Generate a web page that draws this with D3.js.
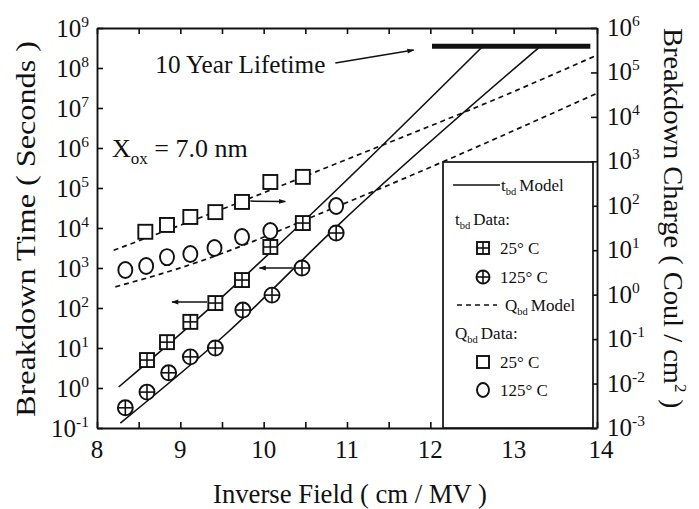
<!DOCTYPE html>
<html><head><meta charset="utf-8">
<script src="https://cdn.jsdelivr.net/npm/d3@7/dist/d3.min.js"></script>
<style>
html,body{margin:0;padding:0;background:#fff;}
svg{display:block;}
text{font-family:"Liberation Serif","Times New Roman",serif;fill:#111;}
</style></head>
<body>
<script>
// ---------- data ----------
const xTicks = [8, 9, 10, 11, 12, 13, 14];
const xMinorTicks = [8.5, 9.5, 10.5, 11.5, 12.5, 13.5];
const leftExp = [-1, 0, 1, 2, 3, 4, 5, 6, 7, 8, 9];
const rightExp = [-3, -2, -1, 0, 1, 2, 3, 4, 5, 6];

// t_bd data (left axis, seconds)
const tbd25x = [8.60, 8.84, 9.12, 9.42, 9.74, 10.08, 10.47];
const tbd25 = [5.0, 14, 45, 133, 500, 3350, 13300];
const tbd125x = [8.34, 8.60, 8.86, 9.12, 9.42, 9.75, 10.10, 10.46, 10.87];
const tbd125 = [0.32, 0.79, 2.4, 6, 10, 89, 210, 1000, 7500];

// Q_bd data (right axis, C/cm^2)
const qbd25x = [8.58, 8.84, 9.12, 9.42, 9.74, 10.08, 10.47];
const qbd25 = [26, 37, 56, 72, 122, 343, 447];
const qbd125x = [8.34, 8.59, 8.84, 9.12, 9.41, 9.74, 10.08, 10.87];
const qbd125 = [3.6, 4.4, 7.0, 8.2, 11.2, 19.8, 27, 99];

// model curves
const tModel25x = [8.26, 9.42, 10.47, 12.63];
const tModel25 = [1.06, 133, 14100, 3.5e8];
const tModel125x = [8.28, 9.56, 10.92, 13.32];
const tModel125 = [0.133, 23.7, 13300, 3.5e8];
const qModel25x = [8.20, 9.32, 10.92, 13.04, 14.0];
const qModel25 = [10, 62, 966, 40000, 245000];
const qModel125x = [8.22, 9.0, 11.07, 14.0];
const qModel125 = [1.5, 4.0, 135, 34000];

// ten-year lifetime bar
const lifetimeX = [12.02, 13.92];
const lifetimeT = 3.5e8;

// ---------- drawing ----------
const W = 699, H = 509;
const svg = d3.select("body").append("svg").attr("width", W).attr("height", H);
svg.append("rect").attr("width", W).attr("height", H).attr("fill", "#fff");

const x = d3.scaleLinear().domain([8, 14]).range([97, 597]);
const yL = d3.scaleLog().domain([1e-1, 1e9]).range([428, 28]);
const yR = d3.scaleLog().domain([1e-3, 1e6]).range([428, 28]);

const ink = "#111";

// axes
const gAx = svg.append("g");
function styleAxis(g) {
  g.selectAll("path").attr("stroke", ink).attr("stroke-width", 1.9);
  g.selectAll("line").attr("stroke", ink).attr("stroke-width", 1.6);
  g.selectAll("text").remove();
}
gAx.append("g").attr("transform", `translate(0,${yL.range()[0]})`)
  .call(d3.axisBottom(x).tickValues(xTicks.concat(xMinorTicks)).tickSize(-6).tickSizeOuter(0))
  .call(styleAxis);
gAx.append("g").attr("transform", `translate(0,${yL.range()[1]})`)
  .call(d3.axisTop(x).tickValues(xTicks.concat(xMinorTicks)).tickSize(-6).tickSizeOuter(0))
  .call(styleAxis);
gAx.append("g").attr("transform", `translate(${x.range()[0]},0)`)
  .call(d3.axisLeft(yL).tickValues(leftExp.map(e => Math.pow(10, e))).tickSize(-6).tickSizeOuter(0))
  .call(styleAxis);
gAx.append("g").attr("transform", `translate(${x.range()[1]},0)`)
  .call(d3.axisRight(yR).tickValues(rightExp.map(e => Math.pow(10, e))).tickSize(-6).tickSizeOuter(0))
  .call(styleAxis);

// tick labels
const tickFont = 25;
function powLabel(g, xp, yp, e, anchor) {
  const t = g.append("text").attr("x", xp).attr("y", yp)
    .attr("text-anchor", anchor).attr("font-size", tickFont);
  t.append("tspan").text("10");
  t.append("tspan").attr("font-size", tickFont * 0.62).attr("dy", -10).text(String(e));
}
const gLab = svg.append("g");
leftExp.forEach(e => powLabel(gLab, 89, yL(Math.pow(10, e)) + 9, e, "end"));
rightExp.forEach(e => powLabel(gLab, 607, yR(Math.pow(10, e)) + 8, e, "start"));
xTicks.forEach(v => {
  gLab.append("text").attr("x", x(v) + (v === 14 ? 4 : 0)).attr("y", 458)
    .attr("text-anchor", "middle").attr("font-size", tickFont).text(String(v));
});

// axis titles
svg.append("text").attr("x", 350).attr("y", 503).attr("text-anchor", "middle")
  .attr("font-size", 27).attr("textLength", 274).attr("lengthAdjust", "spacingAndGlyphs")
  .text("Inverse Field ( cm / MV )");
svg.append("text").attr("transform", "translate(35,229) rotate(-90)")
  .attr("text-anchor", "middle").attr("font-size", 27)
  .attr("textLength", 376).attr("lengthAdjust", "spacingAndGlyphs")
  .text("Breakdown Time ( Seconds )");
const rt = svg.append("text").attr("transform", "translate(664,28) rotate(90)")
  .attr("text-anchor", "start").attr("font-size", 27);
rt.append("tspan").attr("textLength", 356).attr("lengthAdjust", "spacingAndGlyphs").text("Breakdown Charge ( Coul / cm");
rt.append("tspan").attr("font-size", 17).attr("dy", -11).text("2");
rt.append("tspan").attr("dy", 11).text(" )");

// model lines
const lineL = d3.line().x(d => x(d[0])).y(d => yL(d[1])).curve(d3.curveMonotoneX);
const lineR = d3.line().x(d => x(d[0])).y(d => yR(d[1])).curve(d3.curveMonotoneX);
const gLines = svg.append("g").attr("fill", "none").attr("stroke", ink);
gLines.append("path").attr("d", lineL(d3.zip(tModel25x, tModel25))).attr("stroke-width", 1.6);
gLines.append("path").attr("d", lineL(d3.zip(tModel125x, tModel125))).attr("stroke-width", 1.6);
gLines.append("path").attr("d", lineR(d3.zip(qModel25x, qModel25))).attr("stroke-width", 1.7).attr("stroke-dasharray", "5,4");
gLines.append("path").attr("d", lineR(d3.zip(qModel125x, qModel125))).attr("stroke-width", 1.7).attr("stroke-dasharray", "5,4");

// lifetime bar
svg.append("line").attr("x1", x(lifetimeX[0])).attr("x2", x(lifetimeX[1]))
  .attr("y1", yL(lifetimeT)).attr("y2", yL(lifetimeT))
  .attr("stroke", ink).attr("stroke-width", 5);

// markers
const S = 14, R = 7.5;
function sqPlus(g, cx, cy, s) {
  g.append("rect").attr("x", cx - s / 2).attr("y", cy - s / 2).attr("width", s).attr("height", s)
    .attr("fill", "#fff").attr("stroke", ink).attr("stroke-width", 1.9);
  g.append("line").attr("x1", cx - s / 2).attr("x2", cx + s / 2).attr("y1", cy).attr("y2", cy).attr("stroke", ink).attr("stroke-width", 1.6);
  g.append("line").attr("x1", cx).attr("x2", cx).attr("y1", cy - s / 2).attr("y2", cy + s / 2).attr("stroke", ink).attr("stroke-width", 1.6);
}
function cirPlus(g, cx, cy, r) {
  g.append("circle").attr("cx", cx).attr("cy", cy).attr("r", r)
    .attr("fill", "#fff").attr("stroke", ink).attr("stroke-width", 1.9);
  g.append("line").attr("x1", cx - r).attr("x2", cx + r).attr("y1", cy).attr("y2", cy).attr("stroke", ink).attr("stroke-width", 1.6);
  g.append("line").attr("x1", cx).attr("x2", cx).attr("y1", cy - r).attr("y2", cy + r).attr("stroke", ink).attr("stroke-width", 1.6);
}
function sq(g, cx, cy, s) {
  g.append("rect").attr("x", cx - s / 2).attr("y", cy - s / 2).attr("width", s).attr("height", s)
    .attr("fill", "#fff").attr("stroke", ink).attr("stroke-width", 1.9);
}
function cir(g, cx, cy, r) {
  g.append("ellipse").attr("cx", cx).attr("cy", cy).attr("rx", r - 0.5).attr("ry", r + 0.5)
    .attr("fill", "#fff").attr("stroke", ink).attr("stroke-width", 1.9);
}
const gM = svg.append("g");
tbd25x.forEach((v, i) => sqPlus(gM, x(v), yL(tbd25[i]), S));
tbd125x.forEach((v, i) => cirPlus(gM, x(v), yL(tbd125[i]), R));
qbd25x.forEach((v, i) => sq(gM, x(v), yR(qbd25[i]), S));
qbd125x.forEach((v, i) => cir(gM, x(v), yR(qbd125[i]), R));

// arrows
const defs = svg.append("defs");
defs.append("marker").attr("id", "ah").attr("viewBox", "0 0 10 10").attr("refX", 9).attr("refY", 5)
  .attr("markerWidth", 9).attr("markerHeight", 7).attr("markerUnits", "userSpaceOnUse").attr("orient", "auto")
  .append("path").attr("d", "M0,1.5 L10,5 L0,8.5 Z").attr("fill", ink);
function arrow(x1, t1, x2, t2) {
  svg.append("line").attr("x1", x(x1)).attr("y1", yL(t1)).attr("x2", x(x2)).attr("y2", yL(t2))
    .attr("stroke", ink).attr("stroke-width", 1.5).attr("marker-end", "url(#ah)");
}
arrow(9.84, 47000, 10.26, 46000);
arrow(9.32, 141, 8.90, 141);
arrow(10.35, 1000, 9.95, 1000);
arrow(10.86, 1.33e8, 11.80, 2.8e8);

// annotations
svg.append("text").attr("x", x(8.70)).attr("y", yL(7.5e7)).attr("font-size", 25)
  .attr("textLength", 170).attr("lengthAdjust", "spacingAndGlyphs").text("10 Year Lifetime");
const xo = svg.append("text").attr("x", x(8.18)).attr("y", yL(6e5)).attr("font-size", 26);
xo.append("tspan").text("X");
xo.append("tspan").attr("font-size", 17).attr("dy", 7).text("ox");
xo.append("tspan").attr("dy", -7).text(" = 7.0 nm");

// legend
const lx = 443, ly = 162;
const gl = svg.append("g");
gl.append("rect").attr("x", lx).attr("y", ly).attr("width", 150).attr("height", yL.range()[0] - ly)
  .attr("fill", "#fff").attr("stroke", ink).attr("stroke-width", 1.7);
const lf = 17;
function sub(t, main, s, rest) {
  t.append("tspan").text(main);
  t.append("tspan").attr("font-size", lf * 0.62).attr("dy", 4).text(s);
  t.append("tspan").attr("dy", -4).attr("dx", 3).text(rest);
}
gl.append("line").attr("x1", lx + 10).attr("x2", lx + 57).attr("y1", ly + 23).attr("y2", ly + 23).attr("stroke", ink).attr("stroke-width", 1.6);
sub(gl.append("text").attr("x", lx + 58).attr("y", ly + 29).attr("font-size", lf), "t", "bd", "Model");
sub(gl.append("text").attr("x", lx + 12).attr("y", ly + 63).attr("font-size", lf), "t", "bd", "Data:");
sqPlus(gl, lx + 40, ly + 86, 12);
gl.append("text").attr("x", lx + 57).attr("y", ly + 92).attr("font-size", lf).text("25° C");
cirPlus(gl, lx + 40, ly + 115, 6.5);
gl.append("text").attr("x", lx + 57).attr("y", ly + 121).attr("font-size", lf).text("125° C");
gl.append("line").attr("x1", lx + 14).attr("x2", lx + 54).attr("y1", ly + 143).attr("y2", ly + 143)
  .attr("stroke", ink).attr("stroke-width", 1.5).attr("stroke-dasharray", "5,4");
sub(gl.append("text").attr("x", lx + 62).attr("y", ly + 149).attr("font-size", lf), "Q", "bd", "Model");
sub(gl.append("text").attr("x", lx + 12).attr("y", ly + 177).attr("font-size", lf), "Q", "bd", "Data:");
sq(gl, lx + 40, ly + 200, 12);
gl.append("text").attr("x", lx + 57).attr("y", ly + 206).attr("font-size", lf).text("25° C");
cir(gl, lx + 40, ly + 228, 6.5);
gl.append("text").attr("x", lx + 57).attr("y", ly + 234).attr("font-size", lf).text("125° C");
</script>
</body></html>
